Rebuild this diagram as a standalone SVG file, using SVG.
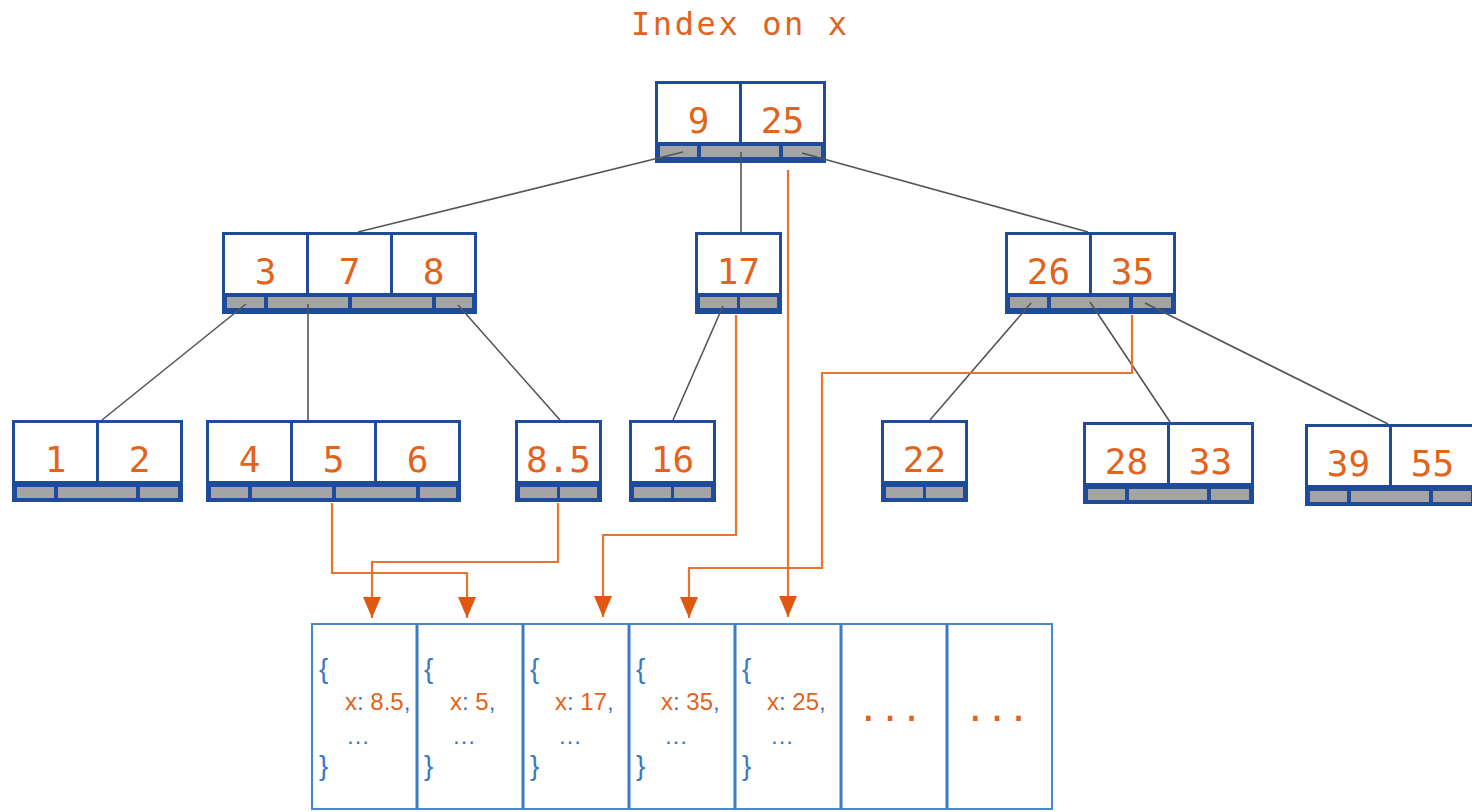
<svg xmlns="http://www.w3.org/2000/svg" width="1472" height="812" viewBox="0 0 1472 812">
  <defs>
    <style>
      .frame { fill: #1f4b9b; }
      .cell { fill: #ffffff; }
      .ptr { fill: #a4a4a4; }
      .key { font-family: "DejaVu Sans Mono", monospace; font-size: 36px; fill: #e2631c; text-anchor: middle; }
      .title { font-family: "DejaVu Sans Mono", monospace; font-size: 32px; fill: #e2631c; letter-spacing: 2.6px; }
      .edge { stroke: #555555; stroke-width: 1.6; fill: none; }
      .ref { stroke: #e8742f; stroke-width: 2.2; fill: none; marker-end: url(#arrow); }
      .doc { fill: #ffffff; stroke: #4a88cc; stroke-width: 2; }
      .sep { stroke: #3b7cc4; stroke-width: 3; }
      .brace { font-family: "Liberation Sans", sans-serif; font-size: 28px; fill: #3a78c2; }
      .field { font-family: "Liberation Sans", sans-serif; font-size: 24px; fill: #e2631c; }
      .punct { fill: #3a78c2; }
      .more { font-family: "Liberation Sans", sans-serif; font-size: 24px; fill: #3a78c2; }
      .etc { font-family: "DejaVu Sans Mono", monospace; font-size: 36px; fill: #e2631c; text-anchor: middle; }
    </style>
    <marker id="arrow" markerUnits="userSpaceOnUse" markerWidth="18" markerHeight="22" refX="9" refY="21" orient="0" viewBox="0 0 18 22">
      <path d="M0,0 L18,0 L9,21 Z" fill="#e05810"/>
    </marker>
  </defs>

  <text class="title" x="631" y="35">Index on x</text>

  <!-- B-tree nodes: blue frame, white key cells, grey pointer slots -->
  <g id="node-root" transform="translate(655,81)">
    <rect class="frame" x="0" y="0" width="171" height="82"/>
    <rect class="cell" x="3" y="3" width="81" height="58"/>
    <rect class="cell" x="87" y="3" width="81" height="58"/>
    <rect class="ptr" x="5" y="65" width="37" height="11"/>
    <rect class="ptr" x="46" y="65" width="78" height="11"/>
    <rect class="ptr" x="128" y="65" width="38" height="11"/>
    <text class="key" x="43.5" y="52">9</text>
    <text class="key" x="127.5" y="52">25</text>
  </g>

  <g id="node-3-7-8" transform="translate(222,232)">
    <rect class="frame" x="0" y="0" width="255" height="82"/>
    <rect class="cell" x="3" y="3" width="81" height="58"/>
    <rect class="cell" x="87" y="3" width="81" height="58"/>
    <rect class="cell" x="171" y="3" width="81" height="58"/>
    <rect class="ptr" x="5" y="65" width="37" height="11"/>
    <rect class="ptr" x="46" y="65" width="80" height="11"/>
    <rect class="ptr" x="130" y="65" width="80" height="11"/>
    <rect class="ptr" x="214" y="65" width="36" height="11"/>
    <text class="key" x="43.5" y="52">3</text>
    <text class="key" x="127.5" y="52">7</text>
    <text class="key" x="211.5" y="52">8</text>
  </g>

  <g id="node-17" transform="translate(695,232)">
    <rect class="frame" x="0" y="0" width="87" height="82"/>
    <rect class="cell" x="3" y="3" width="81" height="58"/>
    <rect class="ptr" x="5" y="65" width="37" height="11"/>
    <rect class="ptr" x="45" y="65" width="37" height="11"/>
    <text class="key" x="43.5" y="52">17</text>
  </g>

  <g id="node-26-35" transform="translate(1005,232)">
    <rect class="frame" x="0" y="0" width="171" height="82"/>
    <rect class="cell" x="3" y="3" width="81" height="58"/>
    <rect class="cell" x="87" y="3" width="81" height="58"/>
    <rect class="ptr" x="5" y="65" width="37" height="11"/>
    <rect class="ptr" x="46" y="65" width="78" height="11"/>
    <rect class="ptr" x="128" y="65" width="38" height="11"/>
    <text class="key" x="43.5" y="52">26</text>
    <text class="key" x="127.5" y="52">35</text>
  </g>

  <g id="leaf-1-2" transform="translate(12,420)">
    <rect class="frame" x="0" y="0" width="171" height="82"/>
    <rect class="cell" x="3" y="3" width="81" height="58"/>
    <rect class="cell" x="87" y="3" width="81" height="58"/>
    <rect class="ptr" x="5" y="67" width="37" height="11"/>
    <rect class="ptr" x="46" y="67" width="78" height="11"/>
    <rect class="ptr" x="128" y="67" width="38" height="11"/>
    <text class="key" x="43.5" y="52">1</text>
    <text class="key" x="127.5" y="52">2</text>
  </g>

  <g id="leaf-4-5-6" transform="translate(206,420)">
    <rect class="frame" x="0" y="0" width="255" height="82"/>
    <rect class="cell" x="3" y="3" width="81" height="58"/>
    <rect class="cell" x="87" y="3" width="81" height="58"/>
    <rect class="cell" x="171" y="3" width="81" height="58"/>
    <rect class="ptr" x="5" y="67" width="37" height="11"/>
    <rect class="ptr" x="46" y="67" width="80" height="11"/>
    <rect class="ptr" x="130" y="67" width="80" height="11"/>
    <rect class="ptr" x="214" y="67" width="36" height="11"/>
    <text class="key" x="43.5" y="52">4</text>
    <text class="key" x="127.5" y="52">5</text>
    <text class="key" x="211.5" y="52">6</text>
  </g>

  <g id="leaf-8-5" transform="translate(515,420)">
    <rect class="frame" x="0" y="0" width="87" height="82"/>
    <rect class="cell" x="3" y="3" width="81" height="58"/>
    <rect class="ptr" x="5" y="67" width="37" height="11"/>
    <rect class="ptr" x="45" y="67" width="37" height="11"/>
    <text class="key" x="43.5" y="52">8.5</text>
  </g>

  <g id="leaf-16" transform="translate(629,420)">
    <rect class="frame" x="0" y="0" width="87" height="82"/>
    <rect class="cell" x="3" y="3" width="81" height="58"/>
    <rect class="ptr" x="5" y="67" width="37" height="11"/>
    <rect class="ptr" x="45" y="67" width="37" height="11"/>
    <text class="key" x="43.5" y="52">16</text>
  </g>

  <g id="leaf-22" transform="translate(881,420)">
    <rect class="frame" x="0" y="0" width="87" height="82"/>
    <rect class="cell" x="3" y="3" width="81" height="58"/>
    <rect class="ptr" x="5" y="67" width="37" height="11"/>
    <rect class="ptr" x="45" y="67" width="37" height="11"/>
    <text class="key" x="43.5" y="52">22</text>
  </g>

  <g id="leaf-28-33" transform="translate(1083,422)">
    <rect class="frame" x="0" y="0" width="171" height="82"/>
    <rect class="cell" x="3" y="3" width="81" height="58"/>
    <rect class="cell" x="87" y="3" width="81" height="58"/>
    <rect class="ptr" x="5" y="67" width="37" height="11"/>
    <rect class="ptr" x="46" y="67" width="78" height="11"/>
    <rect class="ptr" x="128" y="67" width="38" height="11"/>
    <text class="key" x="43.5" y="52">28</text>
    <text class="key" x="127.5" y="52">33</text>
  </g>

  <g id="leaf-39-55" transform="translate(1305,424)">
    <rect class="frame" x="0" y="0" width="171" height="82"/>
    <rect class="cell" x="3" y="3" width="81" height="58"/>
    <rect class="cell" x="87" y="3" width="81" height="58"/>
    <rect class="ptr" x="5" y="67" width="37" height="11"/>
    <rect class="ptr" x="46" y="67" width="78" height="11"/>
    <rect class="ptr" x="128" y="67" width="38" height="11"/>
    <text class="key" x="43.5" y="52">39</text>
    <text class="key" x="127.5" y="52">55</text>
  </g>

  <!-- document storage row -->
  <g id="documents">
    <rect class="doc" x="312" y="624" width="740" height="185"/>
    <line class="sep" x1="417" y1="624" x2="417" y2="809"/>
    <line class="sep" x1="523" y1="624" x2="523" y2="809"/>
    <line class="sep" x1="629" y1="624" x2="629" y2="809"/>
    <line class="sep" x1="735" y1="624" x2="735" y2="809"/>
    <line class="sep" x1="841" y1="624" x2="841" y2="809"/>
    <line class="sep" x1="947" y1="624" x2="947" y2="809"/>
  </g>

  <g id="doc-1">
    <text class="brace" x="319" y="678">{</text>
    <text class="field" x="345" y="710">x<tspan class="punct">:</tspan> 8.5<tspan class="punct">,</tspan></text>
    <text class="more" x="346" y="744">…</text>
    <text class="brace" x="319" y="775">}</text>
  </g>
  <g id="doc-2">
    <text class="brace" x="424" y="678">{</text>
    <text class="field" x="450" y="710">x<tspan class="punct">:</tspan> 5<tspan class="punct">,</tspan></text>
    <text class="more" x="452" y="744">…</text>
    <text class="brace" x="424" y="775">}</text>
  </g>
  <g id="doc-3">
    <text class="brace" x="530" y="678">{</text>
    <text class="field" x="555" y="710">x<tspan class="punct">:</tspan> 17<tspan class="punct">,</tspan></text>
    <text class="more" x="558" y="744">…</text>
    <text class="brace" x="530" y="775">}</text>
  </g>
  <g id="doc-4">
    <text class="brace" x="636" y="678">{</text>
    <text class="field" x="661" y="710">x<tspan class="punct">:</tspan> 35<tspan class="punct">,</tspan></text>
    <text class="more" x="664" y="744">…</text>
    <text class="brace" x="636" y="775">}</text>
  </g>
  <g id="doc-5">
    <text class="brace" x="742" y="678">{</text>
    <text class="field" x="767" y="710">x<tspan class="punct">:</tspan> 25<tspan class="punct">,</tspan></text>
    <text class="more" x="770" y="744">…</text>
    <text class="brace" x="742" y="775">}</text>
  </g>
  <g id="doc-6">
    <text class="etc" x="890" y="721">...</text>
  </g>
  <g id="doc-7">
    <text class="etc" x="997" y="721">...</text>
  </g>

  <!-- connectors: tree edges and record pointers -->
  <g id="connectors">
    <line class="edge" x1="683" y1="152" x2="358" y2="232"/>
    <line class="edge" x1="741" y1="152" x2="741" y2="232"/>
    <line class="edge" x1="802" y1="153" x2="1088" y2="232"/>
    <line class="edge" x1="246" y1="304" x2="102" y2="420"/>
    <line class="edge" x1="308" y1="304" x2="308" y2="420"/>
    <line class="edge" x1="458" y1="305" x2="560" y2="420"/>
    <line class="edge" x1="723" y1="306" x2="673" y2="420"/>
    <line class="edge" x1="1031" y1="303" x2="930" y2="420"/>
    <line class="edge" x1="1090" y1="302" x2="1170" y2="422"/>
    <line class="edge" x1="1145" y1="303" x2="1388" y2="424"/>

    <path class="ref" d="M332,503 V573 H467 V618"/>
    <path class="ref" d="M558,503 V562 H372 V618"/>
    <path class="ref" d="M736,315 V535 H603 V617"/>
    <path class="ref" d="M1132,315 V373 H822 V568 H689 V618"/>
    <path class="ref" d="M788,170 V617"/>
  </g>
</svg>
